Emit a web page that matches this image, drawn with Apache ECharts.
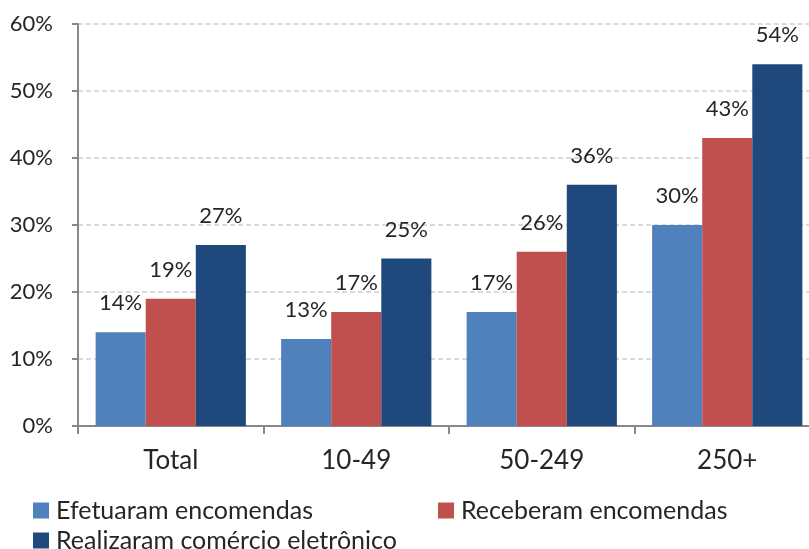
<!DOCTYPE html>
<html>
<head>
<meta charset="utf-8">
<script src="https://cdn.jsdelivr.net/npm/echarts@6/dist/echarts.min.js"></script>
<style>
	html, body { margin: 0; padding: 0; background: #fff; overflow: hidden; }
	#chart { width: 820px; height: 549px; }
</style>
</head>
<body>
<div id="chart"></div>
<script>
var categories = ['Total', '10-49', '50-249', '250+'];
var efetuaram = [14, 13, 17, 30];
var receberam = [19, 17, 26, 43];
var realizaram = [27, 25, 36, 54];
var seriesNames = ['Efetuaram encomendas', 'Receberam encomendas', 'Realizaram comércio eletrônico'];
var colors = ['#4F81BD', '#C0504D', '#1F497D'];

var font = 'Lato';
var textColor = '#262626';

function barSeries(name, data, color) {
	return {
		name: name,
		type: 'bar',
		data: data,
		barGap: '0%',
		barCategoryGap: '19%',
		itemStyle: { color: color },
		label: {
			show: true,
			position: 'top',
			distance: 18,
			formatter: '{c}%',
			color: textColor,
			fontFamily: font,
			fontSize: 22
		}
	};
}

// one legend per item so they can sit in the two-row layout of the original
function legendAt(name, left, top) {
	return {
		data: [name],
		left: left,
		top: top,
		icon: 'rect',
		itemWidth: 16,
		itemHeight: 16,
		padding: 0,
		textStyle: { color: textColor, fontFamily: font, fontSize: 25, padding: [0, 0, 0, 2] }
	};
}

var myChart = echarts.init(document.getElementById('chart'));
var option = {
	animation: false,
	grid: { left: 78, right: 0, top: 24, bottom: 123, containLabel: false },
	legend: [
		legendAt(seriesNames[0], 33, 498),
		legendAt(seriesNames[1], 438, 498),
		legendAt(seriesNames[2], 33, 528)
	],
	xAxis: {
		type: 'category',
		data: categories,
		axisLine: { lineStyle: { color: '#888', width: 2 } },
		axisTick: { show: true, alignWithLabel: false, length: 8, lineStyle: { color: '#888', width: 2 } },
		axisLabel: { color: textColor, fontFamily: font, fontSize: 26, margin: 22 }
	},
	yAxis: {
		type: 'value',
		min: 0,
		max: 60,
		interval: 10,
		axisLine: { show: true, lineStyle: { color: '#888', width: 2 } },
		axisTick: { show: true, inside: false, length: 6, lineStyle: { color: '#888', width: 2 } },
		axisLabel: { formatter: '{value}%', color: textColor, fontFamily: font, fontSize: 22, margin: 25 },
		splitLine: { show: true, lineStyle: { color: '#d0d0d0', type: [5, 3], width: 1.5 } }
	},
	series: [
		barSeries(seriesNames[0], efetuaram, colors[0]),
		barSeries(seriesNames[1], receberam, colors[1]),
		barSeries(seriesNames[2], realizaram, colors[2])
	]
};
myChart.setOption(option);
</script>
</body>
</html>
